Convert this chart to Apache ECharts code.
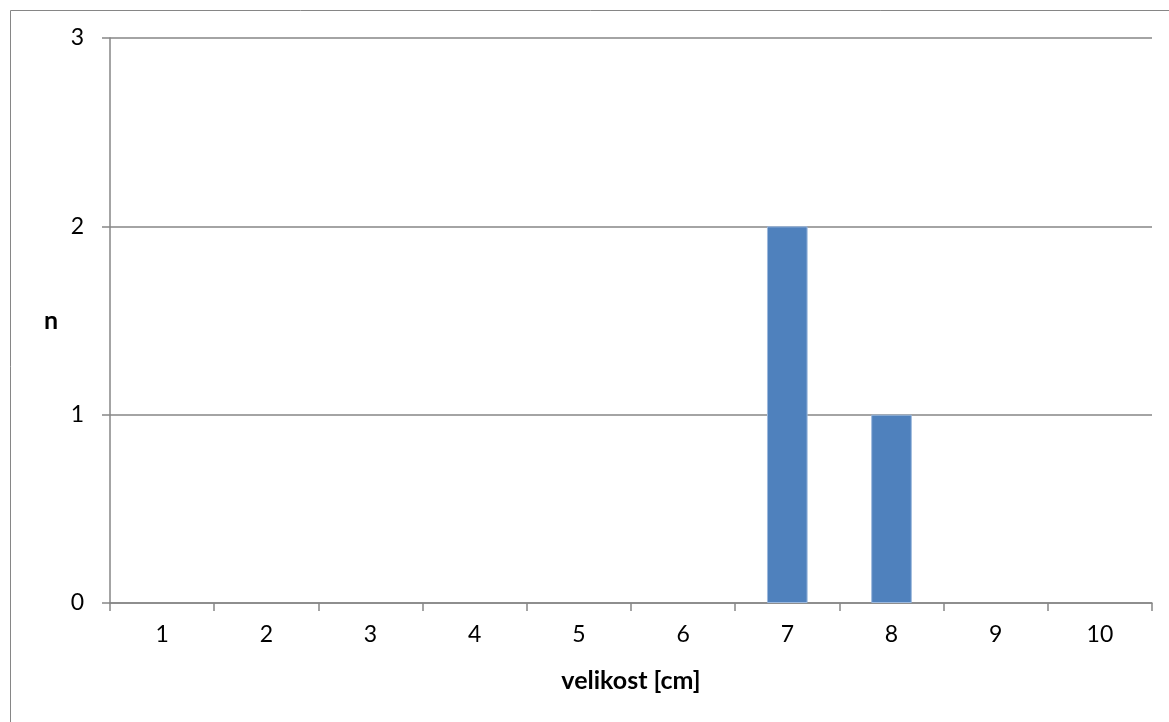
<!DOCTYPE html>
<html>
<head>
<meta charset="utf-8">
<script src="https://cdn.jsdelivr.net/npm/echarts@6/dist/echarts.min.js"></script>
<style>
  html, body { margin: 0; padding: 0; background: #fff; }
  #chart { width: 1169px; height: 722px; }
</style>
</head>
<body>
<div id="chart"></div>
<script>
// Size classes (cm) and how many specimens fall in each
const categories = ['1', '2', '3', '4', '5', '6', '7', '8', '9', '10'];
const counts = [0, 0, 0, 0, 0, 0, 2, 1, 0, 0];
const yTicks = { min: 0, max: 3, interval: 1 };

const FONT = 'Lato, "Open Sans", sans-serif';
const AXIS_GREY = '#868686';

// empty classes get no outline so nothing is drawn along the baseline
const barData = counts.map(v => ({
  value: v,
  itemStyle: { borderWidth: v === 0 ? 0 : 1 }
}));

const chart = echarts.init(document.getElementById('chart'));
chart.setOption({
  animation: false,
  backgroundColor: '#fff',
  graphic: [{
    type: 'rect',
    left: 8, top: 8,
    shape: { width: 1200, height: 760 },
    style: { fill: 'none', stroke: AXIS_GREY, lineWidth: 1 },
    silent: true
  }],
  grid: { left: 110, right: 17, top: 38, bottom: 119, containLabel: false },
  xAxis: {
    type: 'category',
    data: categories,
    boundaryGap: true,
    name: 'velikost [cm]',
    nameLocation: 'middle',
    nameGap: 65,
    nameTextStyle: { fontFamily: FONT, fontSize: 25, fontWeight: 'bold', color: '#000' },
    axisLine: { lineStyle: { color: AXIS_GREY, width: 1.5 } },
    axisTick: { show: true, length: 8, alignWithLabel: false, lineStyle: { color: AXIS_GREY, width: 1.5 } },
    axisLabel: { fontFamily: FONT, fontSize: 23, color: '#000', margin: 20 },
    splitLine: { show: false }
  },
  yAxis: {
    type: 'value',
    min: yTicks.min, max: yTicks.max, interval: yTicks.interval,
    name: 'n',
    nameLocation: 'middle',
    nameRotate: 0,
    nameGap: 52,
    nameTextStyle: { fontFamily: FONT, fontSize: 25, fontWeight: 'bold', color: '#000' },
    axisLine: { show: true, lineStyle: { color: AXIS_GREY, width: 1.5 } },
    axisTick: { show: true, length: 8, lineStyle: { color: AXIS_GREY, width: 1.5 } },
    axisLabel: { fontFamily: FONT, fontSize: 23, color: '#000', margin: 26 },
    splitLine: { show: true, lineStyle: { color: AXIS_GREY, width: 1.5 } }
  },
  series: [{
    type: 'bar',
    data: barData,
    barWidth: '39%',
    itemStyle: { color: '#4F81BD', borderColor: '#9DB9DD', borderWidth: 1 }
  }]
});
</script>
</body>
</html>
